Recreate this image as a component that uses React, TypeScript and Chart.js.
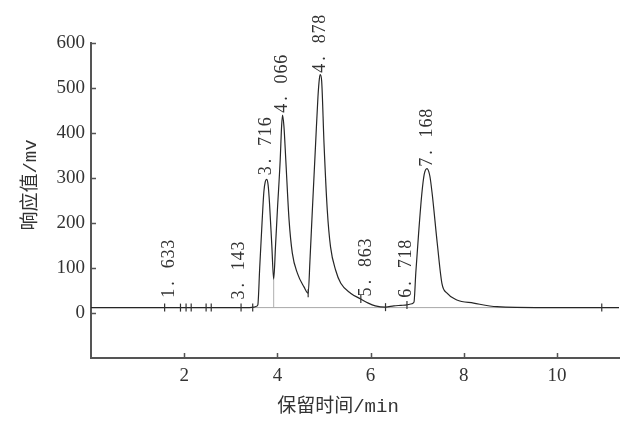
import React, { useEffect, useRef } from 'react';
import { Chart, registerables } from 'chart.js';

Chart.register(...registerables);

// axis ranges and ticks
const xMin = 0;
const xMax = 11.33;
const yMin = -100;
const yMax = 600;
const xTicks = [2, 4, 6, 8, 10];
const yTicks = [0, 100, 200, 300, 400, 500, 600];
const baselineLevel = 12;

// chromatogram signal (retention time min, response mV)
const signalTimes = [
  0, 3.40, 3.50, 3.55, 3.58, 3.62, 3.67, 3.71, 3.74, 3.77, 3.80, 3.83, 3.88, 3.92,
  3.96, 4.00, 4.06, 4.09, 4.11, 4.14, 4.18, 4.25, 4.32, 4.43, 4.57, 4.66,
  4.70, 4.75, 4.82, 4.87, 4.90, 4.92, 4.95, 5.00, 5.07, 5.14, 5.25, 5.36, 5.57, 5.79,
  5.95, 6.10, 6.32, 6.50, 6.65, 6.78, 6.86, 6.93, 6.97, 7.03, 7.10, 7.15, 7.21, 7.27, 7.32,
  7.43, 7.53, 7.64, 7.85, 8.21, 8.71, 9.70, 11.33,
];
const signalValues = [
  12, 12, 13, 15, 18, 100, 200, 270, 292, 297, 285, 245, 150, 75,
  150, 229, 340, 415, 440, 415, 340, 207, 133, 88, 58, 44,
  120, 229, 377, 480, 520, 530, 515, 377, 229, 147, 95, 66, 44, 31,
  22, 16, 13, 16, 17, 18, 20, 24, 90, 177, 266, 308, 321, 305, 266,
  155, 66, 44, 29, 22, 14, 12, 12,
];

// integration markers
const markerTimes = [1.58, 1.92, 2.04, 2.15, 2.47, 2.58, 3.22, 3.47, 4.66, 5.79, 6.32, 6.78, 10.96];
const markerValues = [12, 12, 12, 12, 12, 12, 12, 12, 44, 31, 13, 18, 12];

// drop line between the first two peaks
const dropTimes = [3.92, 3.92];
const dropValues = [12, 75];

// peak labels
const peakLabels = ['1. 633', '3. 143', '3. 716', '4. 066', '4. 878', '5. 863', '6. 718', '7. 168'];
const peakTimes = [1.633, 3.143, 3.716, 4.066, 4.878, 5.863, 6.718, 7.168];
const labelLevels = [33, 29, 305, 444, 533, 36, 33, 324];

const xTitle = '保留时间/min';
const yTitle = '响应值/mv';

const textColor = '#333';
const axisColor = '#555';
const numFont = "'Liberation Serif', 'DejaVu Serif', serif";
const titleFont = "'Liberation Mono', 'Noto Sans CJK SC', monospace";

const decor = {
  id: 'decor',
  afterDraw(chart: any) {
    const { ctx, scales, chartArea } = chart;
    const x = scales.x;
    const y = scales.y;
    ctx.save();
    // inward tick marks
    ctx.strokeStyle = axisColor;
    ctx.lineWidth = 1.5;
    ctx.beginPath();
    x.ticks.forEach((t: any) => {
      const px = Math.round(x.getPixelForValue(t.value)) + 0.5;
      ctx.moveTo(px, chartArea.bottom);
      ctx.lineTo(px, chartArea.bottom - 5);
    });
    y.ticks.forEach((t: any) => {
      const py = Math.round(y.getPixelForValue(t.value)) + 0.5;
      ctx.moveTo(chartArea.left, py);
      ctx.lineTo(chartArea.left + 5, py);
    });
    ctx.stroke();

    // peak labels, rotated, fixed advance per character
    ctx.fillStyle = textColor;
    ctx.font = `18px ${numFont}`;
    ctx.textAlign = 'center';
    ctx.textBaseline = 'middle';
    peakLabels.forEach((s, i) => {
      const px = x.getPixelForValue(peakTimes[i]) + 2;
      const py = y.getPixelForValue(labelLevels[i]);
      ctx.save();
      ctx.translate(px, py);
      ctx.rotate(-Math.PI / 2);
      Array.from(s).forEach((c, j) => ctx.fillText(c, (j + 0.5) * 9.8, 0));
      ctx.restore();
    });

    // axis titles
    ctx.font = `19px ${titleFont}`;
    ctx.fillText(xTitle, 338, 407);
    ctx.save();
    ctx.translate(31, 185);
    ctx.rotate(-Math.PI / 2);
    ctx.fillText(yTitle, 0, 0);
    ctx.restore();
    ctx.restore();
  },
};

export default function App() {
  const ref = useRef<HTMLCanvasElement | null>(null);
  useEffect(() => {
    if (!ref.current) return;
    const chart = new Chart(ref.current, {
      type: 'line',
      data: {
        datasets: [
          {
            type: 'scatter',
            data: markerTimes.map((t, i) => ({ x: t, y: markerValues[i] })),
            showLine: false,
            pointStyle: 'line',
            pointRotation: 90,
            pointRadius: 4,
            borderColor: '#333',
            borderWidth: 1.2,
            order: 0,
          } as any,
          {
            data: signalTimes.map((t, i) => ({ x: t, y: signalValues[i] })),
            borderColor: '#262626',
            borderWidth: 1.2,
            pointRadius: 0,
            cubicInterpolationMode: 'monotone',
            fill: false,
            order: 1,
          },
          {
            data: dropTimes.map((t, i) => ({ x: t, y: dropValues[i] })),
            borderColor: '#b0b0b0',
            borderWidth: 1,
            pointRadius: 0,
            order: 2,
          },
          {
            data: [
              { x: xMin, y: baselineLevel },
              { x: xMax, y: baselineLevel },
            ],
            borderColor: '#a8a8a8',
            borderWidth: 1,
            pointRadius: 0,
            order: 3,
          },
        ],
      },
      options: {
        animation: false,
        responsive: false,
        maintainAspectRatio: false,
        layout: { padding: { top: 43, right: 21, left: 0, bottom: 0 } },
        plugins: { legend: { display: false }, tooltip: { enabled: false } },
        scales: {
          x: {
            type: 'linear',
            min: xMin,
            max: xMax,
            afterBuildTicks: (s: any) => {
              s.ticks = xTicks.map((v) => ({ value: v }));
            },
            afterFit: (s: any) => {
              s.height = 66;
            },
            grid: { display: false, drawTicks: false },
            border: { display: true, color: axisColor, width: 2 },
            ticks: {
              padding: 7,
              color: textColor,
              font: { family: numFont, size: 19 },
              maxRotation: 0,
              autoSkip: false,
            },
          },
          y: {
            type: 'linear',
            min: yMin,
            max: yMax,
            afterBuildTicks: (s: any) => {
              s.ticks = yTicks.map((v) => ({ value: v }));
            },
            afterFit: (s: any) => {
              s.width = 91;
            },
            grid: { display: false, drawTicks: false },
            border: { display: true, color: axisColor, width: 2 },
            ticks: {
              padding: 6,
              color: textColor,
              font: { family: numFont, size: 19 },
              autoSkip: false,
            },
          },
        },
      },
      plugins: [decor],
    });
    return () => chart.destroy();
  }, []);
  return (
    <canvas
      ref={ref}
      width={640}
      height={424}
      style={{ position: 'fixed', left: 0, top: 0, width: 640, height: 424, display: 'block', background: '#fff' }}
    />
  );
}
